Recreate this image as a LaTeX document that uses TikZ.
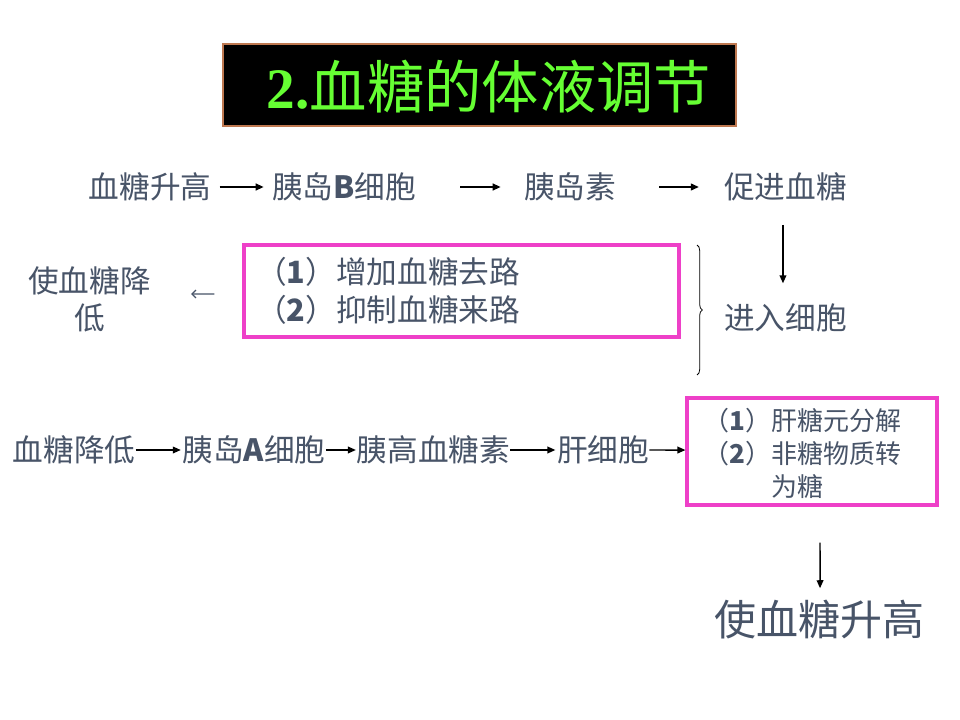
\documentclass[tikz,border=0pt]{standalone}
\usepackage{fontspec}
\setmainfont{Noto Sans CJK SC}
\newfontfamily\serifb{Liberation Serif}
\usetikzlibrary{arrows.meta,decorations.pathreplacing}
\definecolor{txt}{RGB}{72,84,104}
\definecolor{pinkbox}{RGB}{238,64,200}
\definecolor{tgreen}{RGB}{102,255,51}
\definecolor{tborder}{RGB}{190,120,80}
\begin{document}
\begin{tikzpicture}[x=0.75pt,y=-0.75pt,
  lbl/.style={inner sep=0pt, text=txt, font=\fontsize{23}{28}\selectfont},
  small/.style={inner sep=0pt, text=txt, align=left, font=\fontsize{19.5}{25}\selectfont},
  arrthick/.style={-{Triangle[length=6pt,width=5pt]}, line width=1.4pt},
  arrthin/.style={-{Triangle[length=6pt,width=5pt]}, line width=1.1pt},
  pinkframe/.style={draw=pinkbox, line width=2.3pt, inner sep=0pt},
]
\useasboundingbox (0,0) rectangle (960,720);
\fill[white] (0,0) rectangle (960,720);

% title
\node[fill=black, draw=tborder, line width=0.8pt, minimum width=384.75pt, minimum height=61.5pt, inner sep=0pt] (titlebox) at (479.5,85) {};
\node[inner sep=0pt, text=tgreen, font=\fontsize{43}{50}\selectfont] (title) at (489,87) {{\serifb\bfseries 2.}血糖的体液调节};

% row 1
\node[lbl] (a1) at (150,187) {血糖升高};
\node[lbl] (a2) at (344,187) {胰岛\textbf{B}细胞};
\node[lbl] (a3) at (570,187) {胰岛素};
\node[lbl] (a4) at (785.5,187) {促进血糖};
\draw[arrthick] ([xshift=6pt]a1.east) -- ([xshift=-6pt]a2.west);
\draw[arrthick] ([xshift=33pt]a2.east) -- ([xshift=-17.25pt]a3.west);
\draw[arrthick] ([xshift=32.25pt]a3.east) -- ([xshift=-18.75pt]a4.west);

% enter cells
\node[lbl] (e) at (785.5,318) {进入细胞};
\draw[arrthin] ([xshift=-1.9pt,yshift=-28.5pt]a4.center) -- ([xshift=-1.9pt,yshift=26pt]e.center);

% pink box 1
\node[pinkframe, minimum width=326.25pt, minimum height=69pt] (b1) at (461.5,291) {};
\node[lbl, align=left, anchor=west, font=\fontsize{23}{28.5}\selectfont] (b1t) at (256,291) {（\textbf{1}）增加血糖去路\\（\textbf{2}）抑制血糖来路};

% brace
\coordinate (brtop) at (697,245);
\coordinate (brbot) at (697,375);
\draw[decorate, decoration={brace, amplitude=4pt}, line width=0.6pt, black] (brtop) -- (brbot);

% lower blood sugar
\node[lbl, align=center, font=\fontsize{23}{27.75}\selectfont] (c) at (89.5,299.5) {使血糖降\\低};
\draw[-{Straight Barb[length=3pt,width=6pt]}, line width=0.9pt, txt] ([xshift=-21pt,yshift=-2.25pt]b1.west) -- ([xshift=30pt,yshift=4.1pt]c.east);

% row 3
\node[lbl] (d1) at (74,450) {血糖降低};
\node[lbl] (d2) at (254,450) {胰岛\textbf{A}细胞};
\node[lbl] (d3) at (433.5,450) {胰高血糖素};
\node[lbl] (d4) at (603,450) {肝细胞};
\node[pinkframe, minimum width=187.5pt, minimum height=80.25pt] (b2) at (812,451.5) {};
\node[small, anchor=west] (b2t) at (703,453.5) {（\textbf{1}）肝糖元分解\\（\textbf{2}）非糖物质转\\\phantom{（\textbf{2}）}为糖};
\draw[arrthin] (d1.east) -- ([xshift=-1pt]d2.west);
\draw[arrthin] (d2.east) -- ([xshift=-0.5pt]d3.west);
\draw[arrthin] (d3.east) -- ([xshift=-1pt]d4.west);
\draw[arrthin] (d4.east) -- ([yshift=1.1pt]b2.west);

% raise blood sugar
\node[inner sep=0pt, text=txt, font=\fontsize{31.5}{36}\selectfont] (f) at (819.5,620) {使血糖升高};
\draw[arrthin] ([xshift=6pt,yshift=-27pt]b2.south) -- ([xshift=0.4pt,yshift=9pt]f.north);
\end{tikzpicture}
\end{document}
